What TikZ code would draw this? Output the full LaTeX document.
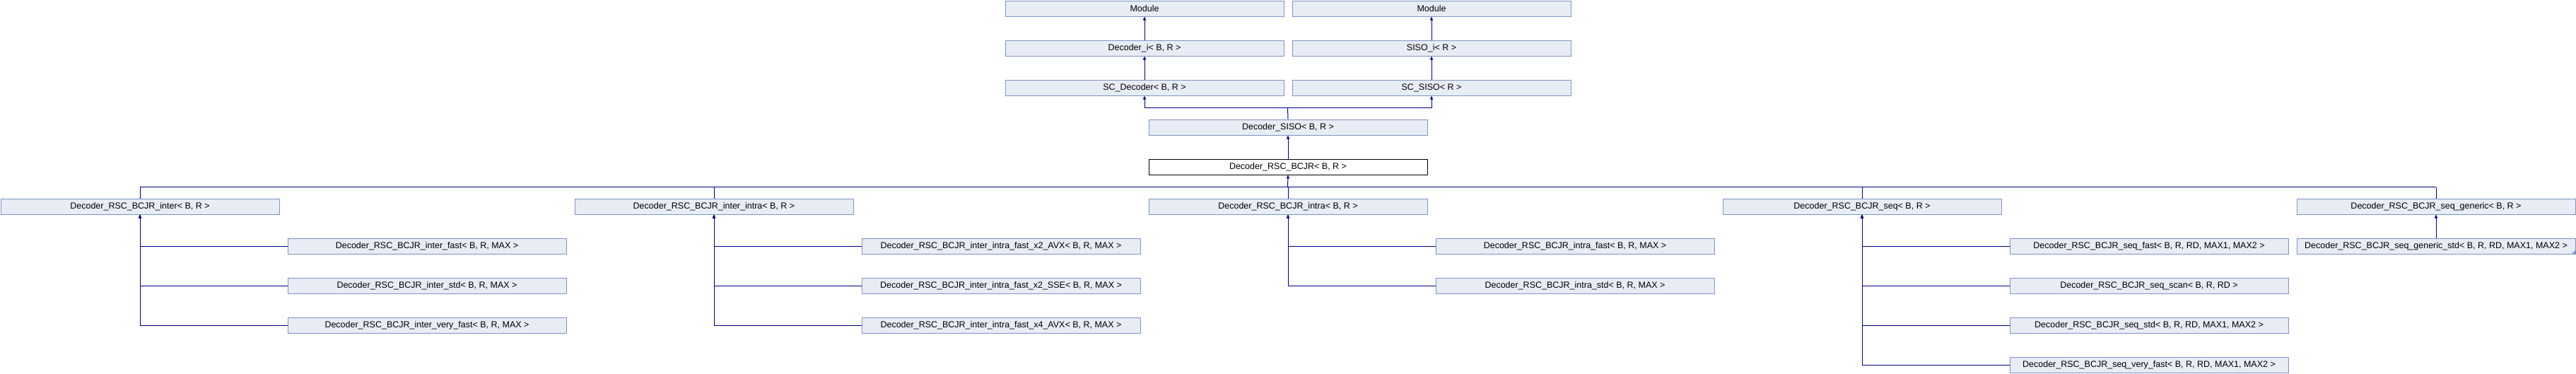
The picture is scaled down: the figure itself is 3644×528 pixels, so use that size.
\documentclass[tikz,border=0pt]{standalone}
\usepackage{fontspec}
\setmainfont{Liberation Sans}
\usetikzlibrary{arrows.meta}
\definecolor{boxfill}{RGB}{232,236,244}
\definecolor{boxline}{RGB}{126,148,200}
\definecolor{connline}{RGB}{0,0,140}
\tikzset{
  cls/.style={draw=boxline, fill=boxfill, line width=1pt, rectangle, inner sep=0pt,
    minimum width=394pt, minimum height=22pt, anchor=north west,
    font=\fontsize{12.5}{14}\selectfont},
  focus/.style={cls, draw=black, fill=white},
  conn/.style={draw=connline, line width=1pt},
  inh/.style={conn, -{Triangle[length=5pt,width=4pt]}}
}
\newcommand{\cb}[4][cls]{\node[#1] (#2) at (#3) {#4};}
\begin{document}
\begin{tikzpicture}[x=1pt,y=-1pt]
\useasboundingbox (0,0) rectangle (3644,528);
% top part
\cb{modL}{1421.5,0.5}{Module}
\cb{modR}{1827.5,0.5}{Module}
\cb{deci}{1421.5,56.5}{Decoder\_i< B, R >}
\cb{sisoi}{1827.5,56.5}{SISO\_i< R >}
\cb{scdec}{1421.5,112.5}{SC\_Decoder< B, R >}
\cb{scsiso}{1827.5,112.5}{SC\_SISO< R >}
\cb{decsiso}{1624.5,168.5}{Decoder\_SISO< B, R >}
\cb[focus]{rsc}{1624.5,224.5}{Decoder\_RSC\_BCJR< B, R >}
% row 5 parents
\cb{inter}{0.5,280.5}{Decoder\_RSC\_BCJR\_inter< B, R >}
\cb{ii}{812.5,280.5}{Decoder\_RSC\_BCJR\_inter\_intra< B, R >}
\cb{intra}{1624.5,280.5}{Decoder\_RSC\_BCJR\_intra< B, R >}
\cb{seq}{2436.5,280.5}{Decoder\_RSC\_BCJR\_seq< B, R >}
\cb{seqg}{3248.5,280.5}{Decoder\_RSC\_BCJR\_seq\_generic< B, R >}
% children
\cb{interfast}{406.5,336.5}{Decoder\_RSC\_BCJR\_inter\_fast< B, R, MAX >}
\cb{interstd}{406.5,392.5}{Decoder\_RSC\_BCJR\_inter\_std< B, R, MAX >}
\cb{intervf}{406.5,448.5}{Decoder\_RSC\_BCJR\_inter\_very\_fast< B, R, MAX >}
\cb{iiavx}{1218.5,336.5}{Decoder\_RSC\_BCJR\_inter\_intra\_fast\_x2\_AVX< B, R, MAX >}
\cb{iisse}{1218.5,392.5}{Decoder\_RSC\_BCJR\_inter\_intra\_fast\_x2\_SSE< B, R, MAX >}
\cb{iix4}{1218.5,448.5}{Decoder\_RSC\_BCJR\_inter\_intra\_fast\_x4\_AVX< B, R, MAX >}
\cb{intrafast}{2030.5,336.5}{Decoder\_RSC\_BCJR\_intra\_fast< B, R, MAX >}
\cb{intrastd}{2030.5,392.5}{Decoder\_RSC\_BCJR\_intra\_std< B, R, MAX >}
\cb{seqfast}{2842.5,336.5}{Decoder\_RSC\_BCJR\_seq\_fast< B, R, RD, MAX1, MAX2 >}
\cb{seqscan}{2842.5,392.5}{Decoder\_RSC\_BCJR\_seq\_scan< B, R, RD >}
\cb{seqstd}{2842.5,448.5}{Decoder\_RSC\_BCJR\_seq\_std< B, R, RD, MAX1, MAX2 >}
\cb{seqvf}{2842.5,504.5}{Decoder\_RSC\_BCJR\_seq\_very\_fast< B, R, RD, MAX1, MAX2 >}
\cb{seqgstd}{3248.5,336.5}{Decoder\_RSC\_BCJR\_seq\_generic\_std< B, R, RD, MAX1, MAX2 >}
\fill[boxline] (seqgstd.south east) ++(-0.5,-0.5) -- ++(-5,0) -- ++(5,-5) -- cycle;
% top connectors
\draw[inh] (deci.north) -- (modL.south);
\draw[inh] (sisoi.north) -- (modR.south);
\draw[inh] (scdec.north) -- (deci.south);
\draw[inh] (scsiso.north) -- (sisoi.south);
\coordinate (bus1) at (1821.5,152.5);
\draw[conn] (decsiso.north) -- (bus1);
\draw[conn] (scdec.south |- bus1) -- (scsiso.south |- bus1);
\draw[inh] (bus1 -| scdec.south) -- (scdec.south);
\draw[inh] (bus1 -| scsiso.south) -- (scsiso.south);
\draw[inh] (rsc.north) -- (decsiso.south);
% main bus
\coordinate (bus2) at (1821.5,264.5);
\draw[conn] (inter.north |- bus2) -- (seqg.north |- bus2);
\foreach \p in {inter,ii,intra,seq,seqg} {\draw[conn] (\p.north) -- (\p.north |- bus2);}
\draw[inh] (bus2) -- (rsc.south);
% children connectors
\foreach \c in {interfast,interstd,intervf} {\draw[inh] (\c.west) -| (inter.south);}
\foreach \c in {iiavx,iisse,iix4} {\draw[inh] (\c.west) -| (ii.south);}
\foreach \c in {intrafast,intrastd} {\draw[inh] (\c.west) -| (intra.south);}
\foreach \c in {seqfast,seqscan,seqstd,seqvf} {\draw[inh] (\c.west) -| (seq.south);}
\draw[inh] (seqgstd.north) -- (seqg.south);
\end{tikzpicture}
\end{document}
